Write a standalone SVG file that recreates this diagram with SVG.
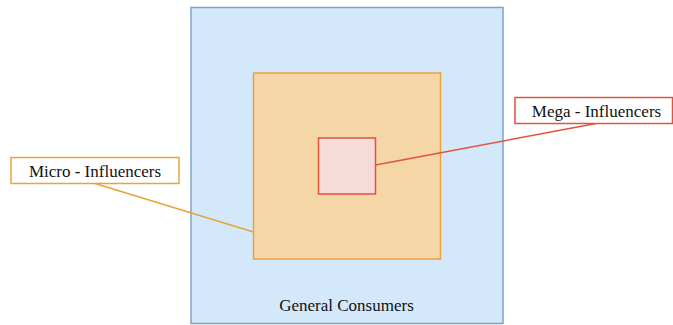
<svg xmlns="http://www.w3.org/2000/svg" width="673" height="325" viewBox="0 0 673 325">
  <style>
    .lbl { font-family: "Liberation Serif", "Times New Roman", Times, serif; font-size: 17px; fill: #111; text-anchor: middle; }
    .consumers { fill: #d4e8fc; stroke: #7fa2c6; stroke-width: 1.5; }
    .micro { fill: #f5d6a6; stroke: #e8a33a; stroke-width: 1.5; }
    .mega { fill: #f7dbd8; stroke: #e2533d; stroke-width: 1.5; }
    .label-micro { fill: #fff; stroke: #e8a33a; stroke-width: 1.5; }
    .label-mega { fill: #fff; stroke: #e2533d; stroke-width: 1.5; }
    .link-micro { stroke: #e8a33a; stroke-width: 1.5; fill: none; }
    .link-mega { stroke: #e2533d; stroke-width: 1.5; fill: none; }
  </style>

  <g id="general-consumers">
    <rect class="consumers" x="191" y="7.5" width="312" height="316"/>
    <text class="lbl" x="346.5" y="311">General Consumers</text>
  </g>

  <g id="micro-area">
    <rect class="micro" x="253.5" y="73" width="187" height="186"/>
  </g>

  <g id="mega-area">
    <rect class="mega" x="318.5" y="138" width="57" height="56"/>
  </g>

  <g id="connectors">
    <line class="link-micro" x1="95" y1="183.5" x2="253.5" y2="232"/>
    <line class="link-mega" x1="375.5" y1="165" x2="596" y2="123.5"/>
  </g>

  <g id="micro-label">
    <rect class="label-micro" x="11" y="157.5" width="168" height="26"/>
    <text class="lbl" x="95" y="176.5">Micro - Influencers</text>
  </g>

  <g id="mega-label">
    <rect class="label-mega" x="515" y="97.5" width="157.5" height="26"/>
    <text class="lbl" x="596.5" y="116.5">Mega - Influencers</text>
  </g>
</svg>
